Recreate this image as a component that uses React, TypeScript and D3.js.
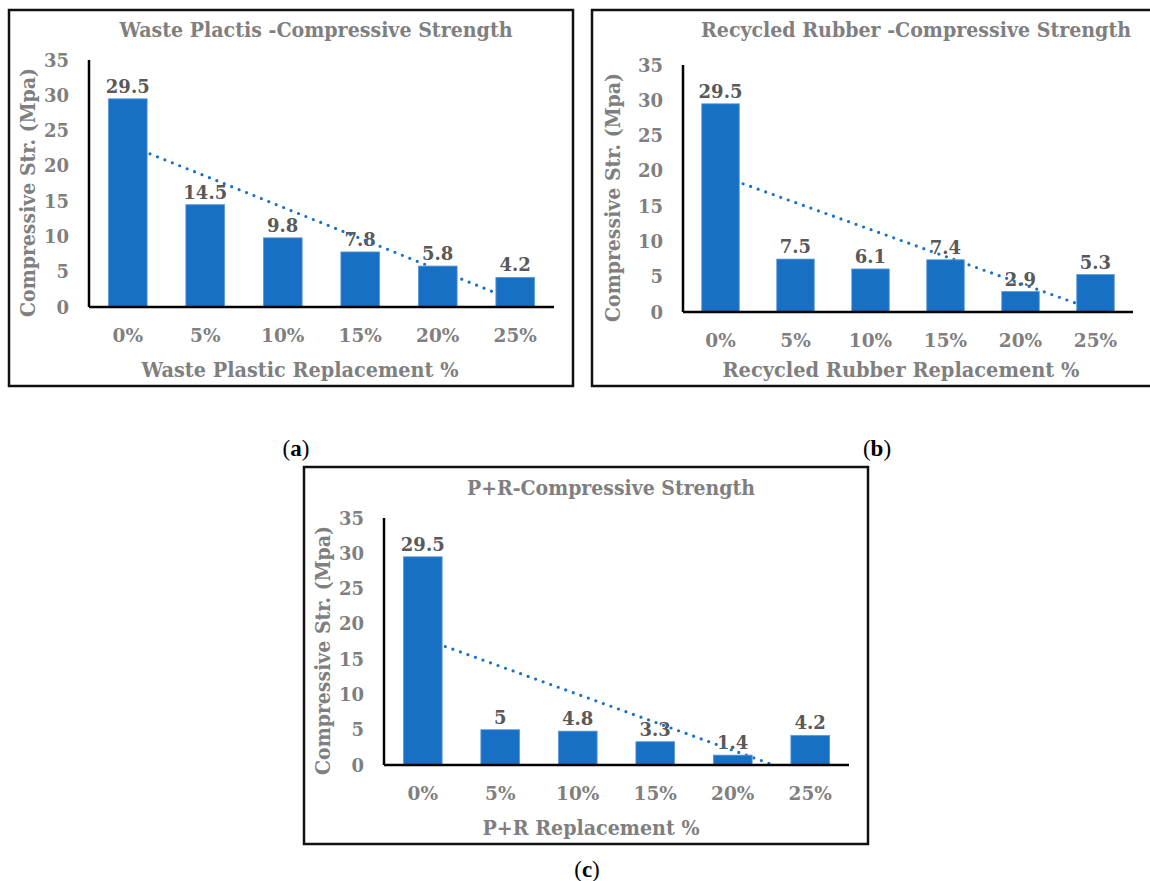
import { useMemo } from "react";
import * as d3 from "d3";

const categories = ["0%", "5%", "10%", "15%", "20%", "25%"];
const plasticValues = [29.5, 14.5, 9.8, 7.8, 5.8, 4.2];
const rubberValues = [29.5, 7.5, 6.1, 7.4, 2.9, 5.3];
const comboValues = [29.5, 5, 4.8, 3.3, 1.4, 4.2];
const yTicks = [0, 5, 10, 15, 20, 25, 30, 35];

const FONT = "'DejaVu Serif', serif";
const GREY = "#7f7f7f";
const LABEL_GREY = "#595959";
const BLUE = "#1870c5";

type Layout = {
  id: string;
  box: { x: number; y: number; w: number; h: number };
  plot: { left: number; right: number; top: number; bottom: number };
  title: string;
  titleX: number;
  titleY: number;
  titleLen: number;
  titleSize: number;
  xTitle: string;
  xTitleX: number;
  xTitleY: number;
  xTitleLen: number;
  yTitleX: number;
};

// least squares fit, like Excel's linear trendline (x = 1..n)
function linearFit(values: number[]) {
  const xs = values.map((_, i) => i + 1);
  const mx = d3.mean(xs) as number;
  const my = d3.mean(values) as number;
  const sxy = d3.sum(xs, (x, i) => (x - mx) * (values[i] - my));
  const sxx = d3.sum(xs, (x) => (x - mx) * (x - mx));
  const slope = sxy / sxx;
  return { slope, intercept: my - slope * mx };
}

function Panel({ layout, values }: { layout: Layout; values: number[] }) {
  const { box, plot } = layout;

  const xScale = useMemo(
    () =>
      d3
        .scaleBand()
        .domain(categories)
        .range([plot.left, plot.right])
        .paddingInner(0.5)
        .paddingOuter(0.25),
    [plot.left, plot.right]
  );

  const yScale = useMemo(
    () => d3.scaleLinear().domain([0, 35]).range([plot.bottom, plot.top]),
    [plot.bottom, plot.top]
  );

  const fit = linearFit(values);
  const center = (i: number) => (xScale(categories[i]) as number) + xScale.bandwidth() / 2;
  const last = values.length - 1;
  const trend = d3.line()([
    [center(0), yScale(fit.intercept + fit.slope * 1)],
    [center(last), yScale(fit.intercept + fit.slope * (last + 1))],
  ]);

  return (
    <g>
      <defs>
        <clipPath id={`clip-${layout.id}`}>
          <rect x={plot.left} y={plot.top} width={plot.right - plot.left} height={plot.bottom - plot.top} />
        </clipPath>
      </defs>
      <rect
        x={box.x}
        y={box.y}
        width={box.w}
        height={box.h}
        fill="white"
        stroke="#111"
        strokeWidth={2.5}
      />
      <text
        x={layout.titleX}
        y={layout.titleY}
        textAnchor="middle"
        fontFamily={FONT}
        fontWeight="bold"
        fontSize={layout.titleSize}
        fill={GREY}
        textLength={layout.titleLen}
        lengthAdjust="spacingAndGlyphs"
      >
        {layout.title}
      </text>

      {yTicks.map((t) => (
        <text
          key={t}
          x={plot.left - 20}
          y={yScale(t)}
          textAnchor="end"
          dominantBaseline="central"
          fontFamily={FONT}
          fontWeight="bold"
          fontSize={18}
          fill={GREY}
        >
          {t}
        </text>
      ))}

      <text
        transform={`translate(${layout.yTitleX},${(plot.top + plot.bottom) / 2 + 9}) rotate(-90)`}
        textAnchor="middle"
        dominantBaseline="central"
        fontFamily={FONT}
        fontWeight="bold"
        fontSize={20.5}
        fill={GREY}
        textLength={249}
        lengthAdjust="spacingAndGlyphs"
      >
        Compressive Str. (Mpa)
      </text>

      {values.map((v, i) => (
        <text
          key={categories[i]}
          x={center(i)}
          y={yScale(v) - 6}
          textAnchor="middle"
          fontFamily={FONT}
          fontWeight="bold"
          fontSize={18}
          fill={LABEL_GREY}
        >
          {v}
        </text>
      ))}

      <path
        d={trend ?? ""}
        clipPath={`url(#clip-${layout.id})`}
        fill="none"
        stroke={BLUE}
        strokeWidth={3.2}
        strokeLinecap="round"
        strokeDasharray="0 8"
      />

      {values.map((v, i) => (
        <rect
          key={categories[i]}
          x={xScale(categories[i])}
          y={yScale(v)}
          width={xScale.bandwidth()}
          height={yScale(0) - yScale(v)}
          fill={BLUE}
          stroke="#5d9ad8"
          strokeWidth={0.8}
        />
      ))}

      <line x1={plot.left} x2={plot.left} y1={plot.top} y2={plot.bottom} stroke="black" strokeWidth={2.5} />
      <line x1={plot.left} x2={plot.right} y1={plot.bottom} y2={plot.bottom} stroke="black" strokeWidth={2.5} />

      {categories.map((c, i) => (
        <text
          key={c}
          x={center(i)}
          y={plot.bottom + 35}
          textAnchor="middle"
          fontFamily={FONT}
          fontWeight="bold"
          fontSize={18.5}
          fill={GREY}
        >
          {c}
        </text>
      ))}

      <text
        x={layout.xTitleX}
        y={layout.xTitleY}
        textAnchor="middle"
        fontFamily={FONT}
        fontWeight="bold"
        fontSize={21}
        fill={GREY}
        textLength={layout.xTitleLen}
        lengthAdjust="spacingAndGlyphs"
      >
        {layout.xTitle}
      </text>
    </g>
  );
}

const panelA: Layout = {
  id: "a",
  box: { x: 9, y: 10, w: 564, h: 376 },
  plot: { left: 89, right: 554, top: 60, bottom: 307 },
  title: "Waste Plactis -Compressive Strength",
  titleX: 316,
  titleY: 37,
  titleLen: 393,
  titleSize: 20.5,
  xTitle: "Waste Plastic Replacement %",
  xTitleX: 300,
  xTitleY: 377,
  xTitleLen: 317,
  yTitleX: 28,
};

const panelB: Layout = {
  id: "b",
  box: { x: 592, y: 10, w: 562, h: 376 },
  plot: { left: 683, right: 1133, top: 65, bottom: 312 },
  title: "Recycled Rubber -Compressive Strength",
  titleX: 916,
  titleY: 37,
  titleLen: 430,
  titleSize: 19.5,
  xTitle: "Recycled Rubber Replacement %",
  xTitleX: 901,
  xTitleY: 377,
  xTitleLen: 357,
  yTitleX: 613,
};

const panelC: Layout = {
  id: "c",
  box: { x: 304, y: 467, w: 564, h: 377 },
  plot: { left: 384, right: 849, top: 518, bottom: 765 },
  title: "P+R-Compressive Strength",
  titleX: 611,
  titleY: 495,
  titleLen: 288,
  titleSize: 20.5,
  xTitle: "P+R Replacement %",
  xTitleX: 591,
  xTitleY: 835,
  xTitleLen: 217,
  yTitleX: 323,
};

function Caption({ x, y, letter }: { x: number; y: number; letter: string }) {
  return (
    <text x={x} y={y} textAnchor="middle" fontFamily="'Liberation Serif', serif" fontSize={23} fill="black">
      (<tspan fontWeight="bold">{letter}</tspan>)
    </text>
  );
}

export default function App() {
  return (
    <svg
      width={1150}
      height={881}
      style={{ position: "absolute", left: 0, top: 0, background: "white" }}
    >
      <Panel layout={panelA} values={plasticValues} />
      <Panel layout={panelB} values={rubberValues} />
      <Panel layout={panelC} values={comboValues} />
      <Caption x={296} y={456} letter="a" />
      <Caption x={877} y={456} letter="b" />
      <Caption x={587} y={877} letter="c" />
    </svg>
  );
}
